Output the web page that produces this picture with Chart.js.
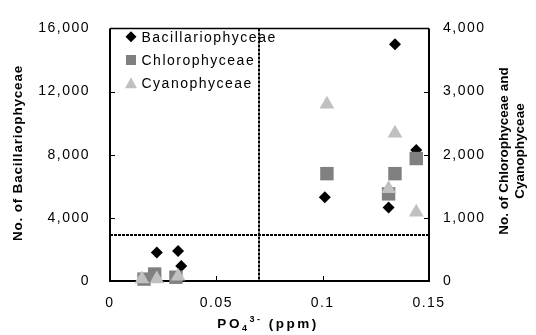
<!DOCTYPE html>
<html>
<head>
<meta charset="utf-8">
<script src="https://cdn.jsdelivr.net/npm/chart.js@4/dist/chart.umd.min.js"></script>
<style>
html,body{margin:0;padding:0;background:#fff;}
#wrap{width:536px;height:335px;position:relative;}
</style>
</head>
<body>
<div id="wrap"><canvas id="c" width="536" height="335"></canvas></div>
<script>
// ---- data ----
const seriesNames = ['Bacillariophyceae', 'Chlorophyceae', 'Cyanophyceae'];
const xTickValues = [0, 0.05, 0.1, 0.15];
const leftTickValues = [0, 4000, 8000, 12000, 16000];
const rightTickValues = [0, 1000, 2000, 3000, 4000];

const bacilPO4   = [0.022, 0.032, 0.0335, 0.101, 0.131, 0.134, 0.144];
const bacilCount = [1800, 1900, 950, 5300, 4650, 15000, 8300];

const chloroPO4   = [0.016, 0.021, 0.031, 0.102, 0.131, 0.134, 0.144];
const chloroCount = [30, 110, 60, 1700, 1380, 1700, 1940];

const cyanoPO4   = [0.015, 0.022, 0.032, 0.102, 0.131, 0.134, 0.144];
const cyanoCount = [30, 30, 75, 2800, 1460, 2340, 1090];

const po4Threshold = 0.07;
const bacilThreshold = 2900;

const xTitle = ['PO', '4', '3-', ' (ppm)'];
const leftTitle = 'No. of Bacillariophyceae';
const rightTitle = ['No. of Chlorophyceae and', 'Cyanophyceae'];

const FONT = '"Liberation Sans", Arial, sans-serif';
const colors = ['#000000', '#808080', '#c0c0c0'];

const pts = (xs, ys) => xs.map((x, i) => ({x: x, y: ys[i]}));

const decor = {
  id: 'decor',
  beforeDraw(chart) {
    chart.ctx.letterSpacing = '1.5px';
  },
  beforeDatasetsDraw(chart) {
    const ctx = chart.ctx, a = chart.chartArea;
    const sx = chart.scales.x, sl = chart.scales.yL, sr = chart.scales.yR;
    ctx.save();
    ctx.strokeStyle = '#000';
    // box
    ctx.lineWidth = 1.5;
    ctx.beginPath();
    ctx.moveTo(a.left, a.top); ctx.lineTo(a.right, a.top);
    ctx.stroke();
    ctx.lineWidth = 2;
    ctx.beginPath();
    ctx.moveTo(a.left, a.top); ctx.lineTo(a.left, a.bottom); ctx.lineTo(a.right, a.bottom); ctx.lineTo(a.right, a.top);
    ctx.stroke();
    // inward ticks
    ctx.lineWidth = 1;
    ctx.beginPath();
    leftTickValues.slice(1, -1).forEach(v => { const y = Math.round(sl.getPixelForValue(v)) + 0.5; ctx.moveTo(a.left, y); ctx.lineTo(a.left + 5, y); });
    rightTickValues.slice(1, -1).forEach(v => { const y = Math.round(sr.getPixelForValue(v)) + 0.5; ctx.moveTo(a.right, y); ctx.lineTo(a.right - 5, y); });
    xTickValues.slice(1, -1).forEach(v => { const x = Math.round(sx.getPixelForValue(v)) + 0.5; ctx.moveTo(x, a.bottom); ctx.lineTo(x, a.bottom - 5); });
    ctx.stroke();
    // dashed threshold lines
    ctx.lineWidth = 2;
    ctx.setLineDash([3, 1]);
    const vx = Math.round(sx.getPixelForValue(po4Threshold));
    ctx.beginPath(); ctx.moveTo(vx, a.top); ctx.lineTo(vx, a.bottom); ctx.stroke();
    const hy = Math.round(sl.getPixelForValue(bacilThreshold));
    ctx.beginPath(); ctx.moveTo(a.left, hy); ctx.lineTo(a.right, hy); ctx.stroke();
    ctx.restore();
  },
  afterDraw(chart) {
    const ctx = chart.ctx, a = chart.chartArea;
    ctx.save();
    // legend
    const lx = 131, rows = [36.7, 60, 83.3];
    ctx.font = '14px ' + FONT;
    ctx.letterSpacing = '1.5px';
    ctx.textBaseline = 'alphabetic';
    ctx.textAlign = 'left';
    rows.forEach((ry, i) => {
      ctx.fillStyle = colors[i];
      ctx.beginPath();
      if (i === 0) {
        ctx.moveTo(lx, ry - 5.5); ctx.lineTo(lx + 5.5, ry); ctx.lineTo(lx, ry + 5.5); ctx.lineTo(lx - 5.5, ry); ctx.closePath();
      } else if (i === 1) {
        ctx.rect(lx - 5, ry - 5, 10, 10);
      } else {
        ctx.moveTo(lx, ry - 6); ctx.lineTo(lx + 6, ry + 5); ctx.lineTo(lx - 6, ry + 5); ctx.closePath();
      }
      ctx.fill();
      ctx.fillStyle = '#000';
      ctx.fillText(chart.data.datasets[i].label, 141.5, ry + 5);
    });
    // left title
    ctx.font = 'bold 13.5px ' + FONT;
    ctx.letterSpacing = '0.8px';
    ctx.textAlign = 'center';
    ctx.textBaseline = 'middle';
    ctx.save();
    ctx.translate(18, 153);
    ctx.rotate(-Math.PI / 2);
    ctx.fillText(leftTitle, 0, 0);
    ctx.restore();
    // right title
    ctx.letterSpacing = '0px';
    ctx.save();
    ctx.translate(512, 151);
    ctx.rotate(-Math.PI / 2);
    ctx.fillText(rightTitle[0], 0, -8);
    ctx.fillText(rightTitle[1], 0, 8.5);
    ctx.restore();
    // x title
    ctx.textAlign = 'left';
    ctx.textBaseline = 'alphabetic';
    ctx.letterSpacing = '2.5px';
    const big = 'bold 13.5px ' + FONT, small = 'bold 9px ' + FONT;
    const parts = [[xTitle[0], big, 0], [xTitle[1], small, 3], [xTitle[2], small, -6], [xTitle[3], big, 0]];
    let total = 0;
    parts.forEach(p => { ctx.font = p[1]; total += ctx.measureText(p[0]).width; });
    let x = 268 - total / 2;
    const base = 328;
    parts.forEach(p => { ctx.font = p[1]; ctx.fillText(p[0], x, base + p[2]); x += ctx.measureText(p[0]).width; });
    ctx.restore();
  }
};

const tickFont = {family: FONT, size: 14};

new Chart(document.getElementById('c').getContext('2d'), {
  type: 'scatter',
  data: {
    datasets: [
      {label: seriesNames[0], data: pts(bacilPO4, bacilCount), yAxisID: 'yL', pointStyle: 'rectRot', pointRadius: 6, pointHoverRadius: 6, backgroundColor: colors[0], borderColor: colors[0], borderWidth: 0, order: 3, clip: false},
      {label: seriesNames[1], data: pts(chloroPO4, chloroCount), yAxisID: 'yR', pointStyle: 'rect', pointRadius: 9.5, pointHoverRadius: 9.5, backgroundColor: colors[1], borderColor: colors[1], borderWidth: 0, order: 2, clip: false},
      {label: seriesNames[2], data: pts(cyanoPO4, cyanoCount), yAxisID: 'yR', pointStyle: 'triangle', pointRadius: 8.5, pointHoverRadius: 8.5, backgroundColor: colors[2], borderColor: colors[2], borderWidth: 0, order: 1, clip: false}
    ]
  },
  options: {
    responsive: false,
    animation: false,
    devicePixelRatio: 1,
    layout: {padding: {top: 17, left: 0, right: 0, bottom: 0}},
    plugins: {legend: {display: false}, tooltip: {enabled: false}},
    scales: {
      x: {
        type: 'linear', min: 0, max: 0.15,
        afterBuildTicks: s => { s.ticks = xTickValues.map(v => ({value: v})); },
        afterFit: s => { s.height = 54; },
        grid: {display: false, drawTicks: false},
        border: {display: false},
        ticks: {font: tickFont, color: '#000', padding: 14, maxRotation: 0, autoSkip: false, callback: v => String(v)}
      },
      yL: {
        type: 'linear', position: 'left', min: 0, max: 16000,
        afterBuildTicks: s => { s.ticks = leftTickValues.map(v => ({value: v})); },
        afterFit: s => { s.width = 110; },
        grid: {display: false, drawTicks: false},
        border: {display: false},
        ticks: {font: tickFont, color: '#000', padding: 20, autoSkip: false, callback: v => Number(v).toLocaleString('en-US')}
      },
      yR: {
        type: 'linear', position: 'right', min: 0, max: 4000,
        afterBuildTicks: s => { s.ticks = rightTickValues.map(v => ({value: v})); },
        afterFit: s => { s.width = 107; },
        grid: {display: false, drawTicks: false},
        border: {display: false},
        ticks: {font: tickFont, color: '#000', padding: 14, autoSkip: false, callback: v => Number(v).toLocaleString('en-US')}
      }
    }
  },
  plugins: [decor]
});
</script>
</body>
</html>
